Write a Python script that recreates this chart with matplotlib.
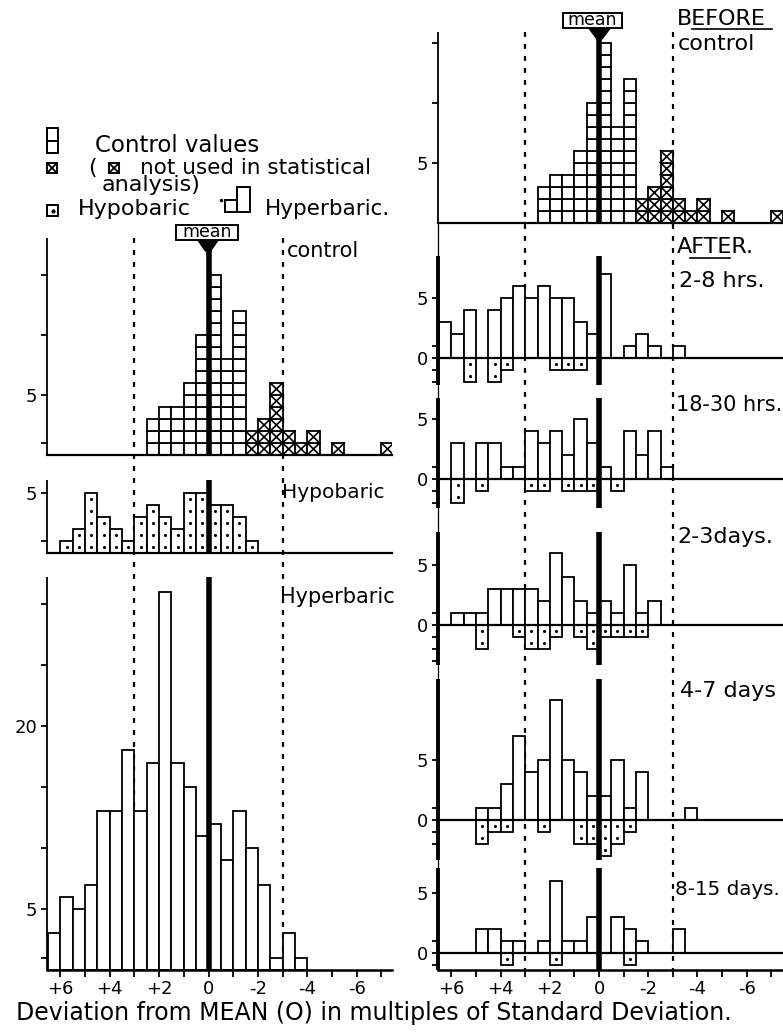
import numpy as np
import matplotlib
matplotlib.use("Agg")
import matplotlib.pyplot as plt
from matplotlib.patches import Rectangle, Polygon

plt.rcParams['font.family'] = ['DejaVu Sans']

W, H = 783, 1035

# ---------------- data ----------------
# centre of each half-SD class (deviation from mean, in SD units)
bin_centers = [6.25, 5.75, 5.25, 4.75, 4.25, 3.75, 3.25, 2.75, 2.25, 1.75, 1.25, 0.75, 0.25,
               -0.25, -0.75, -1.25, -1.75, -2.25, -2.75, -3.25, -3.75, -4.25, -4.75, -5.25,
               -5.75, -6.25, -6.75, -7.25]
bin_width = 0.5

control_used = [0, 0, 0, 0, 0, 0, 0, 0, 3, 4, 4, 6, 10, 15, 8, 12, 0, 0, 0, 0, 0, 0, 0, 0, 0, 0, 0, 0]
control_excluded = [0, 0, 0, 0, 0, 0, 0, 0, 0, 0, 0, 0, 0, 0, 0, 0, 2, 3, 6, 2, 1, 2, 0, 1, 0, 0, 0, 1]
hypobaric = [0, 1, 2, 5, 3, 2, 1, 3, 4, 3, 2, 5, 5, 4, 4, 3, 1, 0, 0, 0, 0, 0, 0, 0, 0, 0, 0, 0]
hyperbaric = [3, 6, 5, 7, 13, 13, 18, 13, 17, 31, 17, 15, 11, 12, 9, 13, 10, 7, 1, 3, 1, 0, 0, 0, 0, 0, 0, 0]

h2_8_hyper = [3, 2, 4, 0, 4, 5, 6, 5, 6, 5, 5, 3, 2, 7, 0, 1, 2, 1, 0, 1, 0, 0, 0, 0, 0, 0, 0, 0]
h2_8_hypo = [0, 0, 2, 0, 2, 1, 0, 0, 0, 1, 1, 1, 0, 0, 0, 0, 0, 0, 0, 0, 0, 0, 0, 0, 0, 0, 0, 0]
h18_30_hyper = [0, 3, 0, 3, 3, 1, 1, 4, 3, 4, 2, 5, 3, 1, 0, 4, 2, 4, 1, 0, 0, 0, 0, 0, 0, 0, 0, 0]
h18_30_hypo = [0, 2, 0, 1, 0, 0, 0, 1, 1, 0, 1, 1, 1, 0, 1, 0, 0, 0, 0, 0, 0, 0, 0, 0, 0, 0, 0, 0]
d2_3_hyper = [0, 1, 1, 1, 3, 3, 3, 3, 2, 6, 4, 2, 1, 2, 1, 5, 1, 2, 0, 0, 0, 0, 0, 0, 0, 0, 0, 0]
d2_3_hypo = [0, 0, 0, 2, 0, 0, 1, 2, 2, 1, 0, 1, 2, 1, 1, 1, 1, 0, 0, 0, 0, 0, 0, 0, 0, 0, 0, 0]
d4_7_hyper = [0, 0, 0, 1, 1, 3, 7, 4, 5, 10, 5, 4, 2, 2, 5, 1, 4, 0, 0, 0, 1, 0, 0, 0, 0, 0, 0, 0]
d4_7_hypo = [0, 0, 0, 2, 1, 1, 0, 0, 1, 0, 0, 2, 2, 3, 2, 1, 0, 0, 0, 0, 0, 0, 0, 0, 0, 0, 0, 0]
d8_15_hyper = [0, 0, 0, 2, 2, 1, 1, 0, 1, 6, 1, 1, 3, 0, 3, 2, 1, 0, 0, 2, 0, 0, 0, 0, 0, 0, 0, 0]
d8_15_hypo = [0, 0, 0, 0, 0, 1, 0, 0, 0, 1, 0, 0, 0, 0, 0, 1, 0, 0, 0, 0, 0, 0, 0, 0, 0, 0, 0, 0]

after_labels = ["2-8 hrs.", "18-30 hrs.", "2-3days.", "4-7 days", "8-15 days."]
x_ticks = [6, 4, 2, 0, -2, -4, -6]
x_tick_labels = ['+6', '+4', '+2', '0', '-2', '-4', '-6']
x_minor = [5, 3, 1, -1, -3, -5, -7]
sd_limits = [3.0, -3.0]

# ---------------- helpers ----------------
fig = plt.figure(figsize=(W / 100, H / 100), dpi=100)
LW = 1.3
FS = 15
LFS = 16
TFS = 13


def px_axes(x0, x1, ytop, ybot, z=1):
    ax = fig.add_axes([x0 / W, 1 - ybot / H, (x1 - x0) / W, (ybot - ytop) / H])
    ax.set_zorder(z)
    ax.patch.set_alpha(0)
    return ax


def style(ax, xlim, ylim, spine_lw=1.3):
    ax.set_xlim(*xlim)
    ax.set_ylim(*ylim)
    for s in ['top', 'right', 'bottom']:
        ax.spines[s].set_visible(False)
    ax.spines['left'].set_linewidth(spine_lw)
    ax.spines['left'].set_capstyle('butt')
    ax.set_xticks([])
    ax.tick_params(axis='y', which='both', direction='out', length=4, width=1.3,
                   labelsize=TFS, pad=3)


def cells(ax, vals, crossed=False):
    xs, bs = [], []
    for c, v in zip(bin_centers, vals):
        for k in range(v):
            xs.append(c)
            bs.append(k)
    ax.bar(xs, 1, bottom=bs, width=bin_width, color='white', edgecolor='black',
           linewidth=LW, zorder=2)
    if crossed:
        lx, ly = [], []
        for x, b in zip(xs, bs):
            lx += [x - bin_width / 2, x + bin_width / 2, np.nan, x - bin_width / 2, x + bin_width / 2, np.nan]
            ly += [b, b + 1, np.nan, b + 1, b, np.nan]
        ax.plot(lx, ly, color='black', lw=1.2, zorder=2.5)


def open_bars(ax, vals, sign=1, dotted=False):
    xs = [c for c, v in zip(bin_centers, vals) if v > 0]
    hs = [sign * v for v in vals if v > 0]
    ax.bar(xs, hs, width=bin_width, color='white', edgecolor='black', linewidth=LW, zorder=2)
    if dotted:
        dx, dy = [], []
        for c, v in zip(bin_centers, vals):
            for k in range(v):
                dx.append(c)
                dy.append(sign * (k + 0.5))
        ax.scatter(dx, dy, s=5, color='black', zorder=2.5, linewidths=0)


def mean_line(ax):
    ax.axvline(0, color='black', lw=4, zorder=4, solid_capstyle='butt')


def base_line(ax, lw=1.6):
    ax.axhline(0, color='black', lw=lw, zorder=3, clip_on=False)


# ---------------- column geometry ----------------
LX0, LX1 = 47, 392
LXLIM = (6.54, -7.43)
RX0, RX1 = 437.7, 783
RXLIM = (6.56, -7.48)
UNIT = 12.0

# background axes with the +/-3 SD dashed lines
bgL = px_axes(LX0, LX1, 238, 972, z=0)
bgL.set_xlim(*LXLIM)
bgL.set_ylim(972, 238)
bgL.vlines(sd_limits, 238, 972, colors='black', linestyles=(0, (2.2, 3.2)), lw=1.6)
bgL.axis('off')

bgR = px_axes(RX0, RX1, 32, 972, z=0)
bgR.set_xlim(*RXLIM)
bgR.set_ylim(972, 32)
bgR.vlines(sd_limits, 32, 972, colors='black', linestyles=(0, (2.2, 3.2)), lw=1.6)
bgR.axis('off')

# ---------------- left column ----------------
axc = px_axes(LX0, LX1, 238, 455)
style(axc, LXLIM, (0, (455 - 238) / UNIT))
cells(axc, control_used)
cells(axc, control_excluded, crossed=True)
mean_line(axc)
base_line(axc)
axc.set_yticks([5], ['5'])
axc.set_yticks([1, 10, 15], minor=True)

axhp = px_axes(LX0, LX1, 480, 553.3)
style(axhp, LXLIM, (0, 73.3 / UNIT))
open_bars(axhp, hypobaric, dotted=True)
mean_line(axhp)
base_line(axhp)
axhp.set_yticks([5], ['5'])
axhp.set_yticks([1], minor=True)

axhr = px_axes(LX0, LX1, 577, 970)
style(axhr, LXLIM, (0, 393 / 12.2))
open_bars(axhr, hyperbaric)
mean_line(axhr)
axhr.spines['bottom'].set_visible(True)
axhr.spines['bottom'].set_linewidth(1.8)
axhr.set_yticks([5, 20], ['5', '20'])
axhr.set_yticks([1, 10, 15, 25, 30], minor=True)
axhr.set_xticks(x_ticks, x_tick_labels)
axhr.set_xticks(x_minor, minor=True)
axhr.tick_params(axis='x', which='both', direction='out', length=5, width=1.3,
                 labelsize=TFS, pad=2)

# ---------------- right column ----------------
axb = px_axes(RX0, RX1, 31.7, 222.7)
style(axb, RXLIM, (0, 191 / UNIT))
cells(axb, control_used)
cells(axb, control_excluded, crossed=True)
mean_line(axb)
base_line(axb)
axb.set_yticks([5], ['5'])
axb.set_yticks([10, 15], minor=True)

after_data = [(h2_8_hyper, h2_8_hypo, 256, 358.3, 385, [1, -1, -2]),
              (h18_30_hyper, h18_30_hypo, 398, 479.3, 508, [1, -1, -2]),
              (d2_3_hyper, d2_3_hypo, 532, 625, 665, [1, -1, -2, -3]),
              (d4_7_hyper, d4_7_hypo, 679, 820, 860, [1, -1, -2]),
              (d8_15_hyper, d8_15_hypo, 868, 953.3, 970, [1, -1])]
after_axes = []
for hyper, hypo, yt, y0, yb, minors in after_data:
    ax = px_axes(RX0, RX1, yt, yb)
    style(ax, RXLIM, (-(yb - y0) / UNIT, (y0 - yt) / UNIT), spine_lw=2.8)
    open_bars(ax, hyper)
    open_bars(ax, hypo, sign=-1, dotted=True)
    mean_line(ax)
    base_line(ax)
    ax.set_yticks([0, 5], ['0', '5'])
    ax.set_yticks(minors, minor=True)
    after_axes.append(ax)

axl = after_axes[-1]
axl.spines['bottom'].set_visible(True)
axl.spines['bottom'].set_linewidth(1.8)
axl.set_xticks(x_ticks, x_tick_labels)
axl.set_xticks(x_minor, minor=True)
axl.tick_params(axis='x', which='both', direction='out', length=5, width=1.3,
                labelsize=TFS, pad=2)

# ---------------- overlay: legend, labels, mean boxes ----------------
ov = fig.add_axes([0, 0, 1, 1])
ov.set_zorder(5)
ov.patch.set_alpha(0)
ov.set_xlim(0, W)
ov.set_ylim(H, 0)
ov.axis('off')

# thin connector of the right-hand axis
ov.plot([RX0, RX0], [222, 970], color='black', lw=0.9)


def box(x, y, w, h, lw=1.4):
    ov.add_patch(Rectangle((x, y), w, h, fc='white', ec='black', lw=lw))


def xbox(x, y, w, h):
    box(x, y, w, h)
    ov.plot([x, x + w, np.nan, x, x + w], [y, y + h, np.nan, y + h, y], color='black', lw=1.3)


# legend
box(47, 128, 11, 12.5)
box(47, 140.5, 11, 12.5)
ov.text(95, 151.7, 'Control values', fontsize=LFS + 0.5, va='baseline')
xbox(47, 163, 10, 10)
ov.text(88, 174, '(', fontsize=LFS, va='baseline')
xbox(109, 163, 10, 10)
ov.text(140, 174, 'not used in statistical', fontsize=LFS - 0.5, va='baseline')
ov.text(102, 191, 'analysis)', fontsize=LFS, va='baseline')
box(47, 205, 11, 11)
ov.plot([52.5], [210.5], 'o', color='black', ms=2)
ov.text(78, 215, 'Hypobaric', fontsize=LFS, va='baseline')
ov.plot([221], [200], 'o', color='black', ms=1.5)
box(225, 199.5, 12, 12.5)
box(237, 187, 13, 25)
ov.text(265, 215, 'Hyperbaric.', fontsize=LFS - 0.5, va='baseline')

# mean markers
ov.add_patch(Polygon([(197, 239), (219, 239), (210.5, 251), (205.5, 251)], closed=True,
                     fc='black', ec='black'))
box(176, 225, 62, 15)
ov.text(207, 237, 'mean', fontsize=12.5, ha='center', va='baseline')

ov.add_patch(Polygon([(588, 27), (611, 27), (602, 39), (597, 39)], closed=True,
                     fc='black', ec='black'))
box(563, 13, 59, 15)
ov.text(592.5, 25, 'mean', fontsize=12.5, ha='center', va='baseline')

# panel labels
ov.text(287, 256.7, 'control', fontsize=FS, va='baseline')
ov.text(282, 498, 'Hypobaric', fontsize=14.5, va='baseline')
ov.text(280, 603, 'Hyperbaric', fontsize=FS, va='baseline')

ov.text(677, 25, 'BEFORE', fontsize=16, va='baseline')
ov.plot([692, 772], [28.5, 28.5], color='black', lw=1.2)
ov.text(678, 50, 'control', fontsize=16, va='baseline')
ov.text(677, 253, 'AFTER.', fontsize=16, va='baseline')
ov.plot([690, 730], [257.5, 257.5], color='black', lw=1.2)
label_base = [286.7, 411, 543, 696.7, 895]
label_x = [679, 676, 677, 680, 675]
label_fs = [16, 15, 16, 16, 14.3]
for lab, yb, xb, fs in zip(after_labels, label_base, label_x, label_fs):
    ov.text(xb, yb, lab, fontsize=fs, va='baseline')

fig.text(373.5 / W, 1 - 1020 / H, 'Deviation from MEAN (O) in multiples of Standard Deviation.',
         fontsize=17, ha='center', va='baseline')

fig.savefig('out.png', dpi=100, facecolor='white')
